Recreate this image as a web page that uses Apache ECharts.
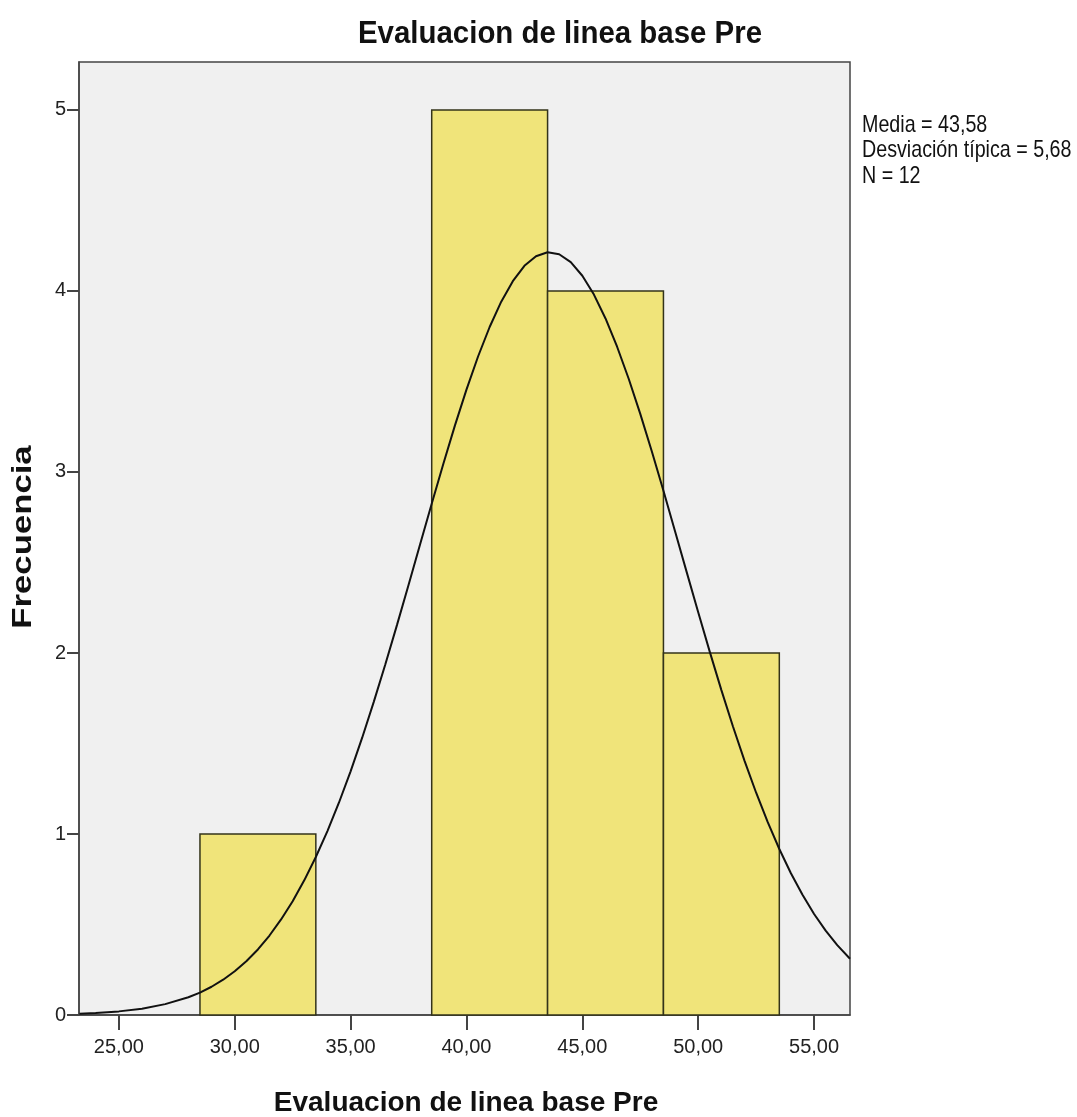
<!DOCTYPE html>
<html><head><meta charset="utf-8">
<script src="https://cdn.jsdelivr.net/npm/echarts@6/dist/echarts.min.js"></script>
<style>html,body{margin:0;padding:0;background:#fff}#c{width:1077px;height:1117px}</style>
</head><body><div id="c"></div>
<script>
const titleText = 'Evaluacion de linea base Pre';
const xName = 'Evaluacion de linea base Pre';
const yName = 'Frecuencia';
const statsLines = ['Media = 43,58', 'Desviación típica = 5,68', 'N = 12'];
// histogram bins: [from, to, frequency]
const binStart = [28.5, 38.5, 43.5, 48.5];
const binEnd = [33.5, 43.5, 48.5, 53.5];
const binFreq = [1, 5, 4, 2];
const xTicks = [25, 30, 35, 40, 45, 50, 55];
const yTicks = [0, 1, 2, 3, 4, 5];
// normal curve
const curveX = [23.3,24,25,26,27,28,28.5,29,29.5,30,30.5,31,31.5,32,32.5,33,33.5,34,34.5,35,35.5,36,36.5,37,37.5,38,38.5,39,39.5,40,40.5,41,41.5,42,42.5,43,43.5,44,44.5,45,45.5,46,46.5,47,47.5,48,48.5,49,49.5,50,50.5,51,51.5,52,52.5,53,53.5,54,54.5,55,55.5,56,56.55];
const curveY = [0.007,0.011,0.02,0.035,0.06,0.098,0.124,0.156,0.195,0.242,0.297,0.362,0.439,0.528,0.628,0.744,0.873,1.016,1.174,1.346,1.532,1.73,1.938,2.154,2.376,2.601,2.825,3.044,3.256,3.455,3.638,3.801,3.941,4.054,4.139,4.192,4.214,4.203,4.159,4.084,3.98,3.848,3.692,3.515,3.321,3.113,2.896,2.673,2.448,2.225,2.006,1.795,1.594,1.404,1.228,1.065,0.917,0.783,0.664,0.558,0.466,0.386,0.311];

const FS = '"Liberation Sans", Arial, sans-serif';
const chart = echarts.init(document.getElementById('c'));
const fmt = v => v.toFixed(2).replace('.', ',');

const graphics = [
  { type: 'text', x: 560, y: 34, scaleX: 0.92,
    style: { text: titleText, font: 'bold 32px ' + FS, fill: '#111', textAlign: 'center', textVerticalAlign: 'middle' } },
  { type: 'text', x: 466, y: 1103,
    style: { text: xName, font: 'bold 28px ' + FS, fill: '#111', textAlign: 'center', textVerticalAlign: 'middle' } },
  { type: 'text', x: 23, y: 537, rotation: Math.PI / 2, scaleX: 1.24,
    style: { text: yName, font: 'bold 28px ' + FS, fill: '#111', textAlign: 'center', textVerticalAlign: 'middle' } }
];
statsLines.forEach((t, i) => {
  graphics.push({ type: 'text', x: 862, y: 125 + i * 25.5, scaleX: 0.82,
    style: { text: t, font: '24px ' + FS, fill: '#111', textAlign: 'left', textVerticalAlign: 'middle' } });
});

chart.setOption({
  backgroundColor: '#ffffff',
  animation: false,
  grid: { left: 79, right: 227, top: 62, bottom: 102, outerBoundsMode: 'none', containLabel: false,
    show: true, backgroundColor: '#f0f0f0', borderColor: '#444', borderWidth: 1.5 },
  xAxis: {
    type: 'value', min: 23.28, max: 56.55,
    axisLine: { show: true, onZero: false, lineStyle: { color: '#444', width: 1.5 } },
    axisTick: { show: true, length: 15, customValues: xTicks, lineStyle: { color: '#444', width: 2 } },
    axisLabel: { customValues: xTicks, formatter: fmt, margin: 22, fontFamily: FS, fontSize: 20, color: '#222' },
    splitLine: { show: false }
  },
  yAxis: {
    type: 'value', min: 0, max: 5.265,
    axisLine: { show: true, lineStyle: { color: '#444', width: 1.5 } },
    axisTick: { show: true, length: 12, customValues: yTicks, lineStyle: { color: '#444', width: 2 } },
    axisLabel: { customValues: yTicks, margin: 13, fontFamily: FS, fontSize: 20, color: '#222' },
    splitLine: { show: false }
  },
  graphic: graphics,
  series: [{
    type: 'custom',
    data: binStart.map((s, i) => [s, binEnd[i], binFreq[i]]),
    encode: { x: [0, 1], y: 2 },
    renderItem: function (params, api) {
      const p0 = api.coord([api.value(0), 0]);
      const p1 = api.coord([api.value(1), api.value(2)]);
      return { type: 'rect', shape: { x: p0[0], y: p1[1], width: p1[0] - p0[0], height: p0[1] - p1[1] },
        style: { fill: '#f0e47a', stroke: '#33331a', lineWidth: 1.5 } };
    },
    z: 2
  }, {
    type: 'line', smooth: false, showSymbol: false, symbol: 'none',
    data: curveX.map((x, i) => [x, curveY[i]]),
    lineStyle: { color: '#111', width: 2 }, z: 3, clip: true
  }]
});
</script></body></html>
